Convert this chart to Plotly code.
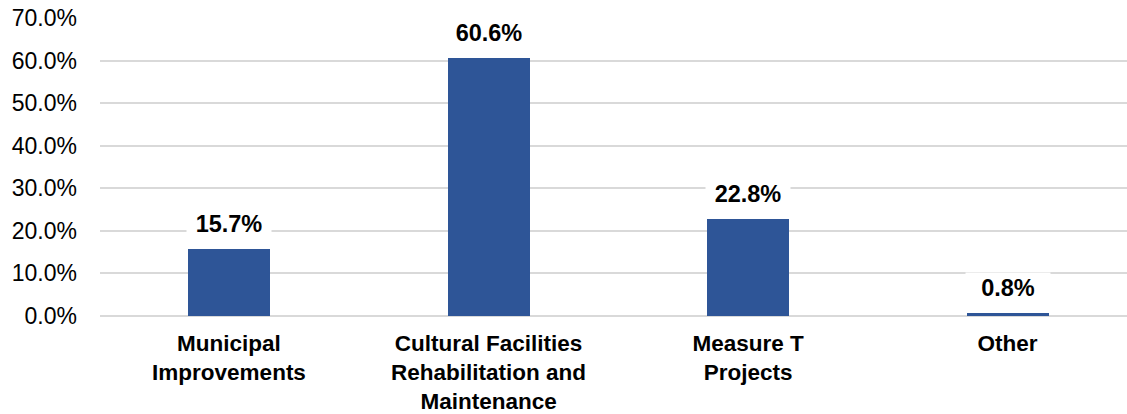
import plotly.graph_objects as go

categories = ["Municipal<br>Improvements",
              "Cultural Facilities<br>Rehabilitation and<br>Maintenance",
              "Measure T<br>Projects",
              "Other"]
values = [15.7, 60.6, 22.8, 0.8]
y_ticks = [0, 10, 20, 30, 40, 50, 60, 70]
y_ticktext = [f"{v:.1f}%" for v in y_ticks]

FONT = "Liberation Sans, Arial, sans-serif"
BAR = "#2E5597"
GRID = "#D9D9D9"

fig = go.Figure()
fig.add_trace(go.Bar(x=categories, y=values, marker=dict(color=BAR, line=dict(width=0)),
                     width=0.316, hoverinfo="skip"))

for c, v in zip(categories, values):
    fig.add_annotation(x=c, y=v, xref="x", yref="y", text=f"<b>{v:.1f}%</b>",
                       showarrow=False, yanchor="middle", yshift=25,
                       bgcolor="white", width=80, borderpad=2,
                       font=dict(family=FONT, size=23.5, color="black"))

fig.update_layout(
    width=1127, height=414,
    margin=dict(l=100, r=0, t=18, b=98, autoexpand=False),
    paper_bgcolor="white", plot_bgcolor="white",
    showlegend=False, bargap=0,
    font=dict(family=FONT, color="black"),
)
fig.update_xaxes(range=[-0.497, 3.46], showgrid=False, zeroline=False,
                 showline=False, ticks="", ticklabelstandoff=11, automargin=False,
                 tickfont=dict(family=FONT, size=22.5, color="black", weight="bold"))
fig.update_yaxes(range=[0, 70], tickvals=y_ticks, ticktext=y_ticktext,
                 showgrid=True, gridcolor=GRID, gridwidth=1.5,
                 zeroline=True, zerolinecolor=GRID, zerolinewidth=1.5,
                 ticks="", ticklabelstandoff=22, automargin=False,
                 tickfont=dict(family=FONT, size=23, color="black"))

fig.write_html("out.html", config={"displayModeBar": False},
               post_script="document.body.style.margin='0';document.body.style.overflow='hidden';")
